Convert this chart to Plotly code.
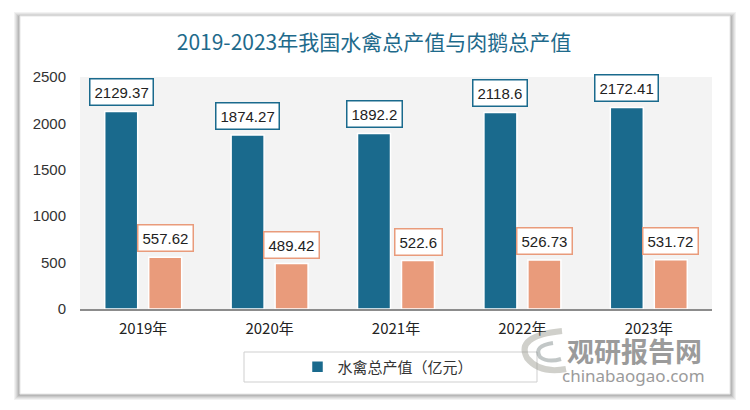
import plotly.graph_objects as go

categories = ["2019年", "2020年", "2021年", "2022年", "2023年"]
waterfowl_output = [2129.37, 1874.27, 1892.2, 2118.6, 2172.41]
goose_output = [557.62, 489.42, 522.6, 526.73, 531.72]
label_waterfowl = ["2129.37", "1874.27", "1892.2", "2118.6", "2172.41"]
label_goose = ["557.62", "489.42", "522.6", "526.73", "531.72"]
y_ticks = [0, 500, 1000, 1500, 2000, 2500]

BLUE = "#1a6a8d"
ORANGE = "#e99b7b"

# page is rendered with an 8px body margin; work in page pixels
OFF = 8
W, H = 750 - OFF, 410 - OFF
L, R, T, B = 80 - OFF, 712 - OFF, 77 - OFF, 309 - OFF


def px(x):
    return (x - OFF - L) / (R - L)


def py(y):
    return (B - (y - OFF)) / (B - T)


fig = go.Figure()
fig.add_trace(go.Bar(
    x=categories, y=waterfowl_output, name="水禽总产值（亿元）",
    marker=dict(color=BLUE, line=dict(color="white", width=1.5)),
    showlegend=True,
))
fig.add_trace(go.Bar(
    x=categories, y=goose_output, name="肉鹅总产值（亿元）",
    marker=dict(color=ORANGE, line=dict(color="white", width=1.5)),
    showlegend=False,
))

annotations = []
for c, v, t in zip(categories, waterfowl_output, label_waterfowl):
    annotations.append(dict(
        x=c, y=v, xref="x", yref="y", text=t, showarrow=False,
        xshift=-22, yshift=5, yanchor="bottom", xanchor="center",
        font=dict(family="Liberation Sans", size=15, color="#222"),
        bgcolor="white", bordercolor=BLUE, borderwidth=1.5, borderpad=4,
    ))
for c, v, t in zip(categories, goose_output, label_goose):
    annotations.append(dict(
        x=c, y=v, xref="x", yref="y", text=t, showarrow=False,
        xshift=22, yshift=5, yanchor="bottom", xanchor="center",
        font=dict(family="Liberation Sans", size=15, color="#222"),
        bgcolor="white", bordercolor=ORANGE, borderwidth=1.5, borderpad=4,
    ))

# watermark
annotations.append(dict(
    x=px(634), y=py(350), xref="paper", yref="paper", text="<b>观研报告网</b>",
    xanchor="center", yanchor="middle",
    showarrow=False, font=dict(family="Noto Sans CJK SC", size=27, color="#8a8a8a"),
    opacity=0.85,
))
annotations.append(dict(
    x=px(633), y=py(375), xref="paper", yref="paper", text="chinabaogao.com",
    xanchor="center", yanchor="middle",
    showarrow=False, font=dict(family="Noto Sans", size=17, color="#8a8a8a"),
    opacity=0.85,
))

shapes = []
# card shadow
for i, op in enumerate([0.05, 0.05, 0.06, 0.07, 0.08]):
    d = 6 - i
    shapes.append(dict(
        type="rect", xref="paper", yref="paper", layer="below",
        x0=px(20 - d), x1=px(730 + d), y0=py(16 - d + 2), y1=py(394 + d),
        fillcolor=f"rgba(0,0,0,{op})", line=dict(width=0),
    ))
# card
shapes.append(dict(
    type="rect", xref="paper", yref="paper", layer="below",
    x0=px(20), x1=px(730), y0=py(16), y1=py(394),
    fillcolor="white", line=dict(color="#e6e6e6", width=1),
))
# plot background
shapes.append(dict(
    type="rect", xref="paper", yref="paper", layer="below",
    x0=0, x1=1, y0=0, y1=1,
    fillcolor="#f3f3f3", line=dict(width=0),
))
# legend box
shapes.append(dict(
    type="rect", xref="paper", yref="paper", layer="below",
    x0=px(244), x1=px(537), y0=py(352), y1=py(382),
    fillcolor="white", line=dict(color="#cfcfcf", width=1),
))
# watermark logo approximation
shapes.append(dict(
    type="path", xref="paper", yref="paper", layer="above",
    path=f"M {px(562)} {py(331)} Q {px(515)} {py(336)} {px(527)} {py(358)} "
         f"Q {px(540)} {py(374)} {px(566)} {py(369)}",
    line=dict(color="rgba(150,150,140,0.45)", width=6),
))
shapes.append(dict(
    type="path", xref="paper", yref="paper", layer="above",
    path=f"M {px(553)} {py(343)} Q {px(533)} {py(346)} {px(540)} {py(357)} "
         f"Q {px(548)} {py(363)} {px(561)} {py(359)}",
    line=dict(color="rgba(120,130,130,0.45)", width=4),
))

fig.update_layout(
    width=W, height=H,
    margin=dict(l=L, r=W - R, t=T, b=H - B, pad=0),
    paper_bgcolor="white", plot_bgcolor="rgba(0,0,0,0)",
    barmode="group", bargap=0.304, bargroupgap=0.25,
    title=dict(
        text="2019-2023年我国水禽总产值与肉鹅总产值",
        x=px(374), xanchor="center", xref="paper",
        y=1 - (43 - OFF) / H, yanchor="middle",
        font=dict(family="Noto Sans CJK SC", size=21, color="#1e6a8b"),
    ),
    xaxis=dict(
        showline=True, linecolor="#8c8c8c", linewidth=1.5,
        ticks="", showgrid=False,
        tickfont=dict(family="Noto Sans CJK SC", size=15, color="#222"),
        ticklabelstandoff=5,
    ),
    yaxis=dict(
        range=[0, 2500], tickvals=y_ticks, showgrid=False, zeroline=False,
        showline=False, ticks="",
        tickfont=dict(family="Liberation Sans", size=15, color="#333"),
        ticklabelstandoff=13,
    ),
    legend=dict(
        orientation="h", x=px(388), xanchor="center", y=py(367), yanchor="middle",
        bgcolor="rgba(0,0,0,0)",
        font=dict(family="Noto Sans CJK SC", size=15, color="#333"),
        itemwidth=30,
    ),
    annotations=annotations,
    shapes=shapes,
)

fig.write_html("out.html")
